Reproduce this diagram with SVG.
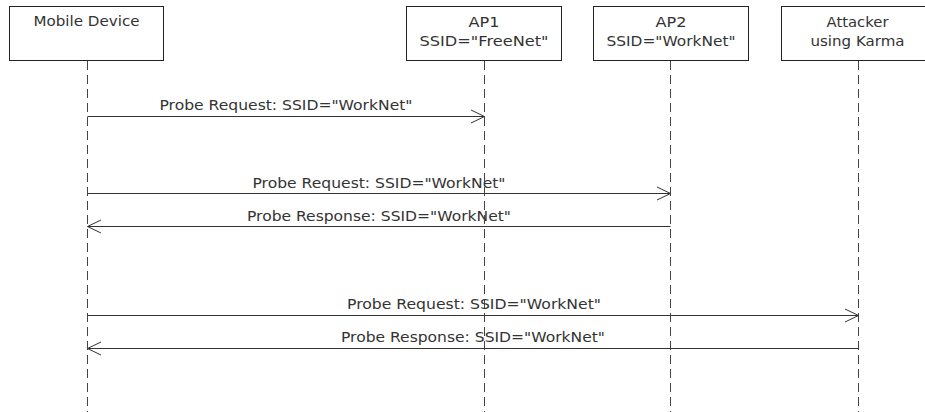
<svg xmlns="http://www.w3.org/2000/svg" width="925" height="412" viewBox="0 0 925 412">
  <defs>
    <style>
      .bg { fill: #ffffff; }
      .box { fill: #ffffff; stroke: #222222; stroke-width: 1; }
      .life { stroke: #444444; stroke-width: 1; stroke-dasharray: 9 5; fill: none; }
      .msg { stroke: #333333; stroke-width: 1; fill: none; }
      .head { stroke: #333333; stroke-width: 1; fill: none; }
      text { font-family: "DejaVu Sans", Verdana, sans-serif; font-size: 14.8px; fill: #333333; text-anchor: middle; }
    </style>
  </defs>
  <rect class="bg" x="0" y="0" width="925" height="412"/>

  <!-- messages -->
  <g id="connectors">
    <text x="286" y="110" textLength="253" lengthAdjust="spacingAndGlyphs">Probe Request: SSID="WorkNet"</text>
    <line class="msg" x1="87.5" y1="116.5" x2="484.5" y2="116.5"/>
    <polyline class="head" points="471,110 484.5,116.5 471,123"/>

    <text x="379" y="188" textLength="253" lengthAdjust="spacingAndGlyphs">Probe Request: SSID="WorkNet"</text>
    <line class="msg" x1="87.5" y1="193.5" x2="670.5" y2="193.5"/>
    <polyline class="head" points="657,187 670.5,193.5 657,200"/>

    <text x="379" y="220.5" textLength="264" lengthAdjust="spacingAndGlyphs">Probe Response: SSID="WorkNet"</text>
    <line class="msg" x1="87.5" y1="226.5" x2="670.5" y2="226.5"/>
    <polyline class="head" points="101,220 87.5,226.5 101,233"/>

    <text x="474" y="309" textLength="254" lengthAdjust="spacingAndGlyphs">Probe Request: SSID="WorkNet"</text>
    <line class="msg" x1="87.5" y1="315.5" x2="858.5" y2="315.5"/>
    <polyline class="head" points="845,309 858.5,315.5 845,322"/>

    <text x="473" y="342" textLength="264" lengthAdjust="spacingAndGlyphs">Probe Response: SSID="WorkNet"</text>
    <line class="msg" x1="87.5" y1="348.5" x2="858.5" y2="348.5"/>
    <polyline class="head" points="101,342 87.5,348.5 101,355"/>
  </g>

  <g id="mobile-device">
    <rect class="box" x="9.5" y="6.5" width="154" height="54"/>
    <text x="86.5" y="26" textLength="106" lengthAdjust="spacingAndGlyphs">Mobile Device</text>
    <line class="life" x1="87.5" y1="61" x2="87.5" y2="412"/>
  </g>

  <g id="ap1">
    <rect class="box" x="406.5" y="6.5" width="155" height="54"/>
    <text x="484" y="27" textLength="31" lengthAdjust="spacingAndGlyphs">AP1</text>
    <text x="484" y="46" textLength="129" lengthAdjust="spacingAndGlyphs">SSID="FreeNet"</text>
    <line class="life" x1="484.5" y1="61" x2="484.5" y2="412"/>
  </g>

  <g id="ap2">
    <rect class="box" x="593.5" y="6.5" width="155" height="54"/>
    <text x="671" y="27" textLength="31" lengthAdjust="spacingAndGlyphs">AP2</text>
    <text x="671" y="46" textLength="129" lengthAdjust="spacingAndGlyphs">SSID="WorkNet"</text>
    <line class="life" x1="670.5" y1="61" x2="670.5" y2="412"/>
  </g>

  <g id="attacker">
    <rect class="box" x="781.5" y="6.5" width="155" height="54"/>
    <text x="857.5" y="27" textLength="62" lengthAdjust="spacingAndGlyphs">Attacker</text>
    <text x="857.5" y="46" textLength="94" lengthAdjust="spacingAndGlyphs">using Karma</text>
    <line class="life" x1="858.5" y1="61" x2="858.5" y2="412"/>
  </g>
</svg>
